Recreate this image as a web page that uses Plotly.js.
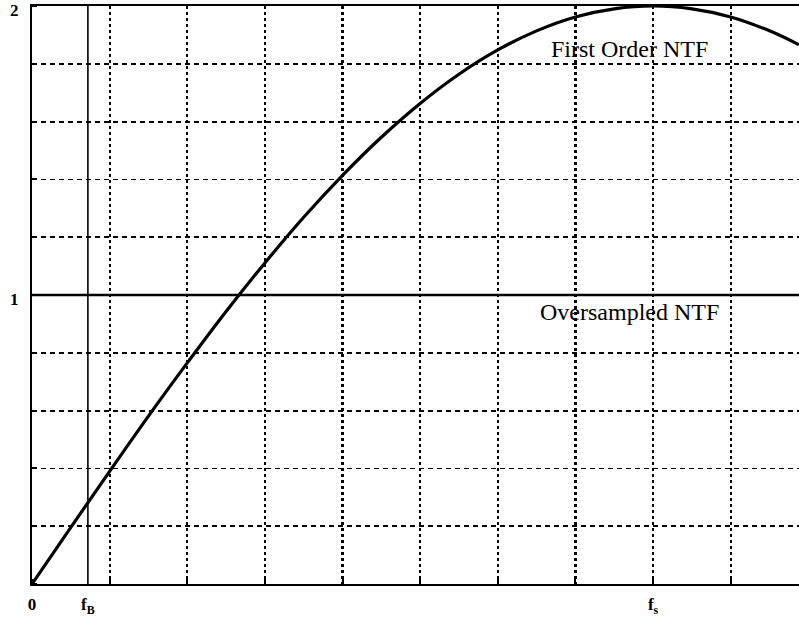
<!DOCTYPE html>
<html>
<head>
<meta charset="utf-8">
<script src="https://cdn.plot.ly/plotly-3.0.1.min.js"></script>
<style>html,body{margin:0;padding:0;background:#fff;}#chart{width:799px;height:624px;}</style>
</head>
<body>
<div id="chart"></div>
<script>
// frequency in grid units (f_s at 8 units), NTF magnitude
const freqX = [0, 0.5, 1, 1.5, 2, 2.5, 3, 3.5, 4, 4.5, 5, 5.5, 6, 6.5, 7, 7.5, 8, 8.5, 9, 9.5, 9.88];
const ntfY  = [0, 0.196, 0.390, 0.581, 0.765, 0.943, 1.111, 1.269, 1.414, 1.546, 1.663, 1.764, 1.848, 1.914, 1.962, 1.990, 2.0, 1.990, 1.962, 1.914, 1.866];
const oversX = [0, 9.88];
const oversY = [1, 1];
const fB = 0.72;
const xTickVals = [0, 0.72, 8];
const xTickText = ['0', 'f<sub>B</sub>', 'f<sub>s</sub>'];
const yTickVals = [1, 2];
const yTickText = ['1', '2'];
const labels = [
  {text: 'First Order NTF', x: 7.7, y: 1.85},
  {text: 'Oversampled NTF', x: 7.7, y: 0.94}
];

const serif = 'Liberation Serif, Times New Roman, serif';

const traces = [
  {x: freqX, y: ntfY, mode: 'lines', line: {color: '#000', width: 3.2, shape: 'spline'}, hoverinfo: 'skip'},
  {x: oversX, y: oversY, mode: 'lines', line: {color: '#000', width: 2.6}, hoverinfo: 'skip'},
  {x: [fB, fB], y: [0, 2], mode: 'lines', line: {color: '#000', width: 1.6}, hoverinfo: 'skip'}
];

const layout = {
  width: 799, height: 624,
  margin: {l: 32, r: 0, t: 6, b: 40},
  paper_bgcolor: '#fff', plot_bgcolor: '#fff',
  showlegend: false,
  font: {family: serif, color: '#000'},
  xaxis: {
    range: [0, 9.88], fixedrange: true,
    tickmode: 'array', tickvals: xTickVals, ticktext: xTickText,
    tickfont: {family: serif, size: 17, color: '#000', weight: 'bold'},
    showgrid: false, zeroline: false,
    showline: true, linecolor: '#000', linewidth: 2, mirror: true,
    ticks: '', ticklabeloverflow: 'allow', ticklabelstandoff: 4,
    minor: {tickmode: 'linear', tick0: 0, dtick: 1, showgrid: true, gridcolor: '#000', gridwidth: 2.2, griddash: '3px,3px', ticks: 'inside', ticklen: 5, tickwidth: 2, tickcolor: '#000'}
  },
  yaxis: {
    range: [0, 2], fixedrange: true,
    tickmode: 'array', tickvals: yTickVals, ticktext: yTickText,
    tickfont: {family: serif, size: 17, color: '#000', weight: 'bold'},
    showgrid: false, zeroline: false,
    showline: true, linecolor: '#000', linewidth: 2, mirror: false,
    ticks: '', ticklabelstandoff: 8, ticklabeloverflow: 'allow', ticklabelshift: 4,
    minor: {tickmode: 'linear', tick0: 0, dtick: 0.2, showgrid: true, gridcolor: '#000', gridwidth: 1.8, griddash: '5px,4px', ticks: 'inside', ticklen: 5, tickwidth: 2, tickcolor: '#000'}
  },
  annotations: labels.map(l => ({
    text: l.text, x: l.x, y: l.y, xref: 'x', yref: 'y', showarrow: false,
    font: {family: serif, size: 24, color: '#000'}
  }))
};

Plotly.newPlot('chart', traces, layout, {displayModeBar: false, staticPlot: true});
</script>
</body>
</html>
